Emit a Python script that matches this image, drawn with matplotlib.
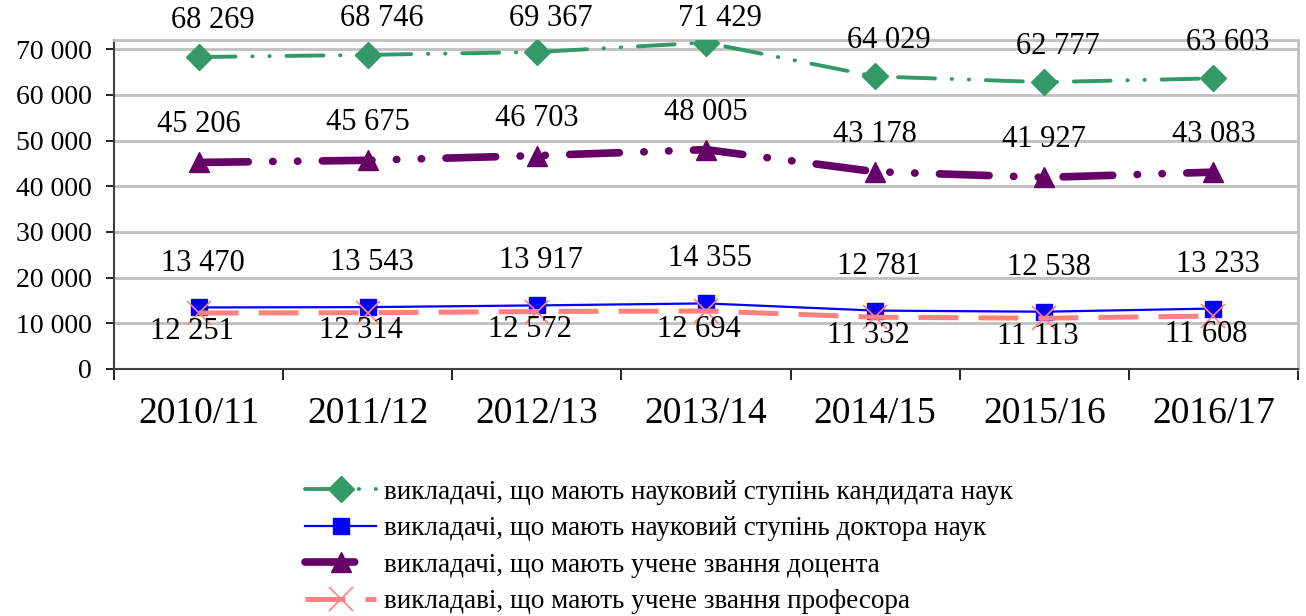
import matplotlib
matplotlib.use("Agg")
import matplotlib.pyplot as plt
from matplotlib.ticker import FuncFormatter, MultipleLocator

years = ["2010/11", "2011/12", "2012/13", "2013/14", "2014/15", "2015/16", "2016/17"]
candidates = [68269, 68746, 69367, 71429, 64029, 62777, 63603]
doctors = [13470, 13543, 13917, 14355, 12781, 12538, 13233]
docents = [45206, 45675, 46703, 48005, 43178, 41927, 43083]
professors = [12251, 12314, 12572, 12694, 11332, 11113, 11608]

labels = [
    "викладачі, що мають науковий ступінь кандидата наук",
    "викладачі, що мають науковий ступінь доктора наук",
    "викладачі, що мають учене звання доцента",
    "викладаві, що мають учене звання професора",
]

plt.rcParams['font.family'] = ['Liberation Serif', 'DejaVu Serif']


def space_fmt(v, pos=None):
    return f"{int(round(v)):,}".replace(",", " ")


fig = plt.figure(figsize=(13.06, 6.16), dpi=100)
ax = fig.add_axes([114 / 1306, 1 - 369 / 616, (1298 - 114) / 1306, (369 - 40) / 616])

x = list(range(len(years)))

ax.plot(x, candidates, color="#339966", lw=2.8, marker="D", ms=13,
        linestyle=(0, (9.5, 4.3, 0.1, 4.3, 0.1, 4.3)), dash_capstyle="round",
        label=labels[0], zorder=4)
ax.plot(x, doctors, color="#0000FF", lw=1.6, marker="s", ms=11,
        linestyle="-", label=labels[1], zorder=4)
ax.plot(x, docents, color="#660066", lw=5.5, marker="^", ms=15,
        linestyle=(0, (6.5, 3.2, 0.05, 3.2, 0.05, 3.2)), dash_capstyle="round",
        label=labels[2], zorder=4)
ax.plot(x, professors, color="#FF8080", lw=3.6, marker="x", ms=17, mew=1.2,
        linestyle=(0, (8, 4)), label=labels[3], zorder=5)

# data labels (offsets in points); keep the top row inside the figure
pt_per_unit = (329 / 72000) * 72 / 100
label_ceiling = 76800
series = [(candidates, 10, 26), (docents, 0, 27), (doctors, 3, 32), (professors, -5, -13)]
for vals, dx, dy in series:
    for xi, v in zip(x, vals):
        d = min(dy, (label_ceiling - v) * pt_per_unit) if dy > 0 else dy
        ax.annotate(space_fmt(v), (xi, v), xytext=(dx, d), textcoords="offset points",
                    ha="center", va="center", fontsize=22, zorder=6,
                    annotation_clip=False)

ax.set_xlim(-0.5, len(years) - 0.5)
ax.set_ylim(0, 72000)
ax.yaxis.set_major_locator(MultipleLocator(10000))
ax.yaxis.set_major_formatter(FuncFormatter(space_fmt))
ax.set_xticks(x)
ax.set_xticklabels(years, fontsize=27)
ax.set_xticks([i - 0.5 for i in range(len(years) + 1)], minor=True)
ax.tick_params(axis="x", which="major", length=0, pad=20)
ax.tick_params(axis="x", which="minor", length=8, width=1.2, direction="out")
ax.tick_params(axis="y", labelsize=20, length=6, width=1.2, direction="out", pad=10)

ax.grid(axis="y", color="#c0c0c0", lw=2)
ax.set_axisbelow(True)
for s in ("top", "right"):
    ax.spines[s].set_color("#c0c0c0")
    ax.spines[s].set_linewidth(2)
for s in ("left", "bottom"):
    ax.spines[s].set_color("#404040")
    ax.spines[s].set_linewidth(1.5)

fig.legend(loc="center", bbox_to_anchor=(659 / 1306, 1 - 547 / 616), frameon=False,
           fontsize=19.5, handlelength=2.6, handletextpad=0.3, labelspacing=0.42,
           borderaxespad=0, borderpad=0)

fig.savefig("out.png", dpi=100)
